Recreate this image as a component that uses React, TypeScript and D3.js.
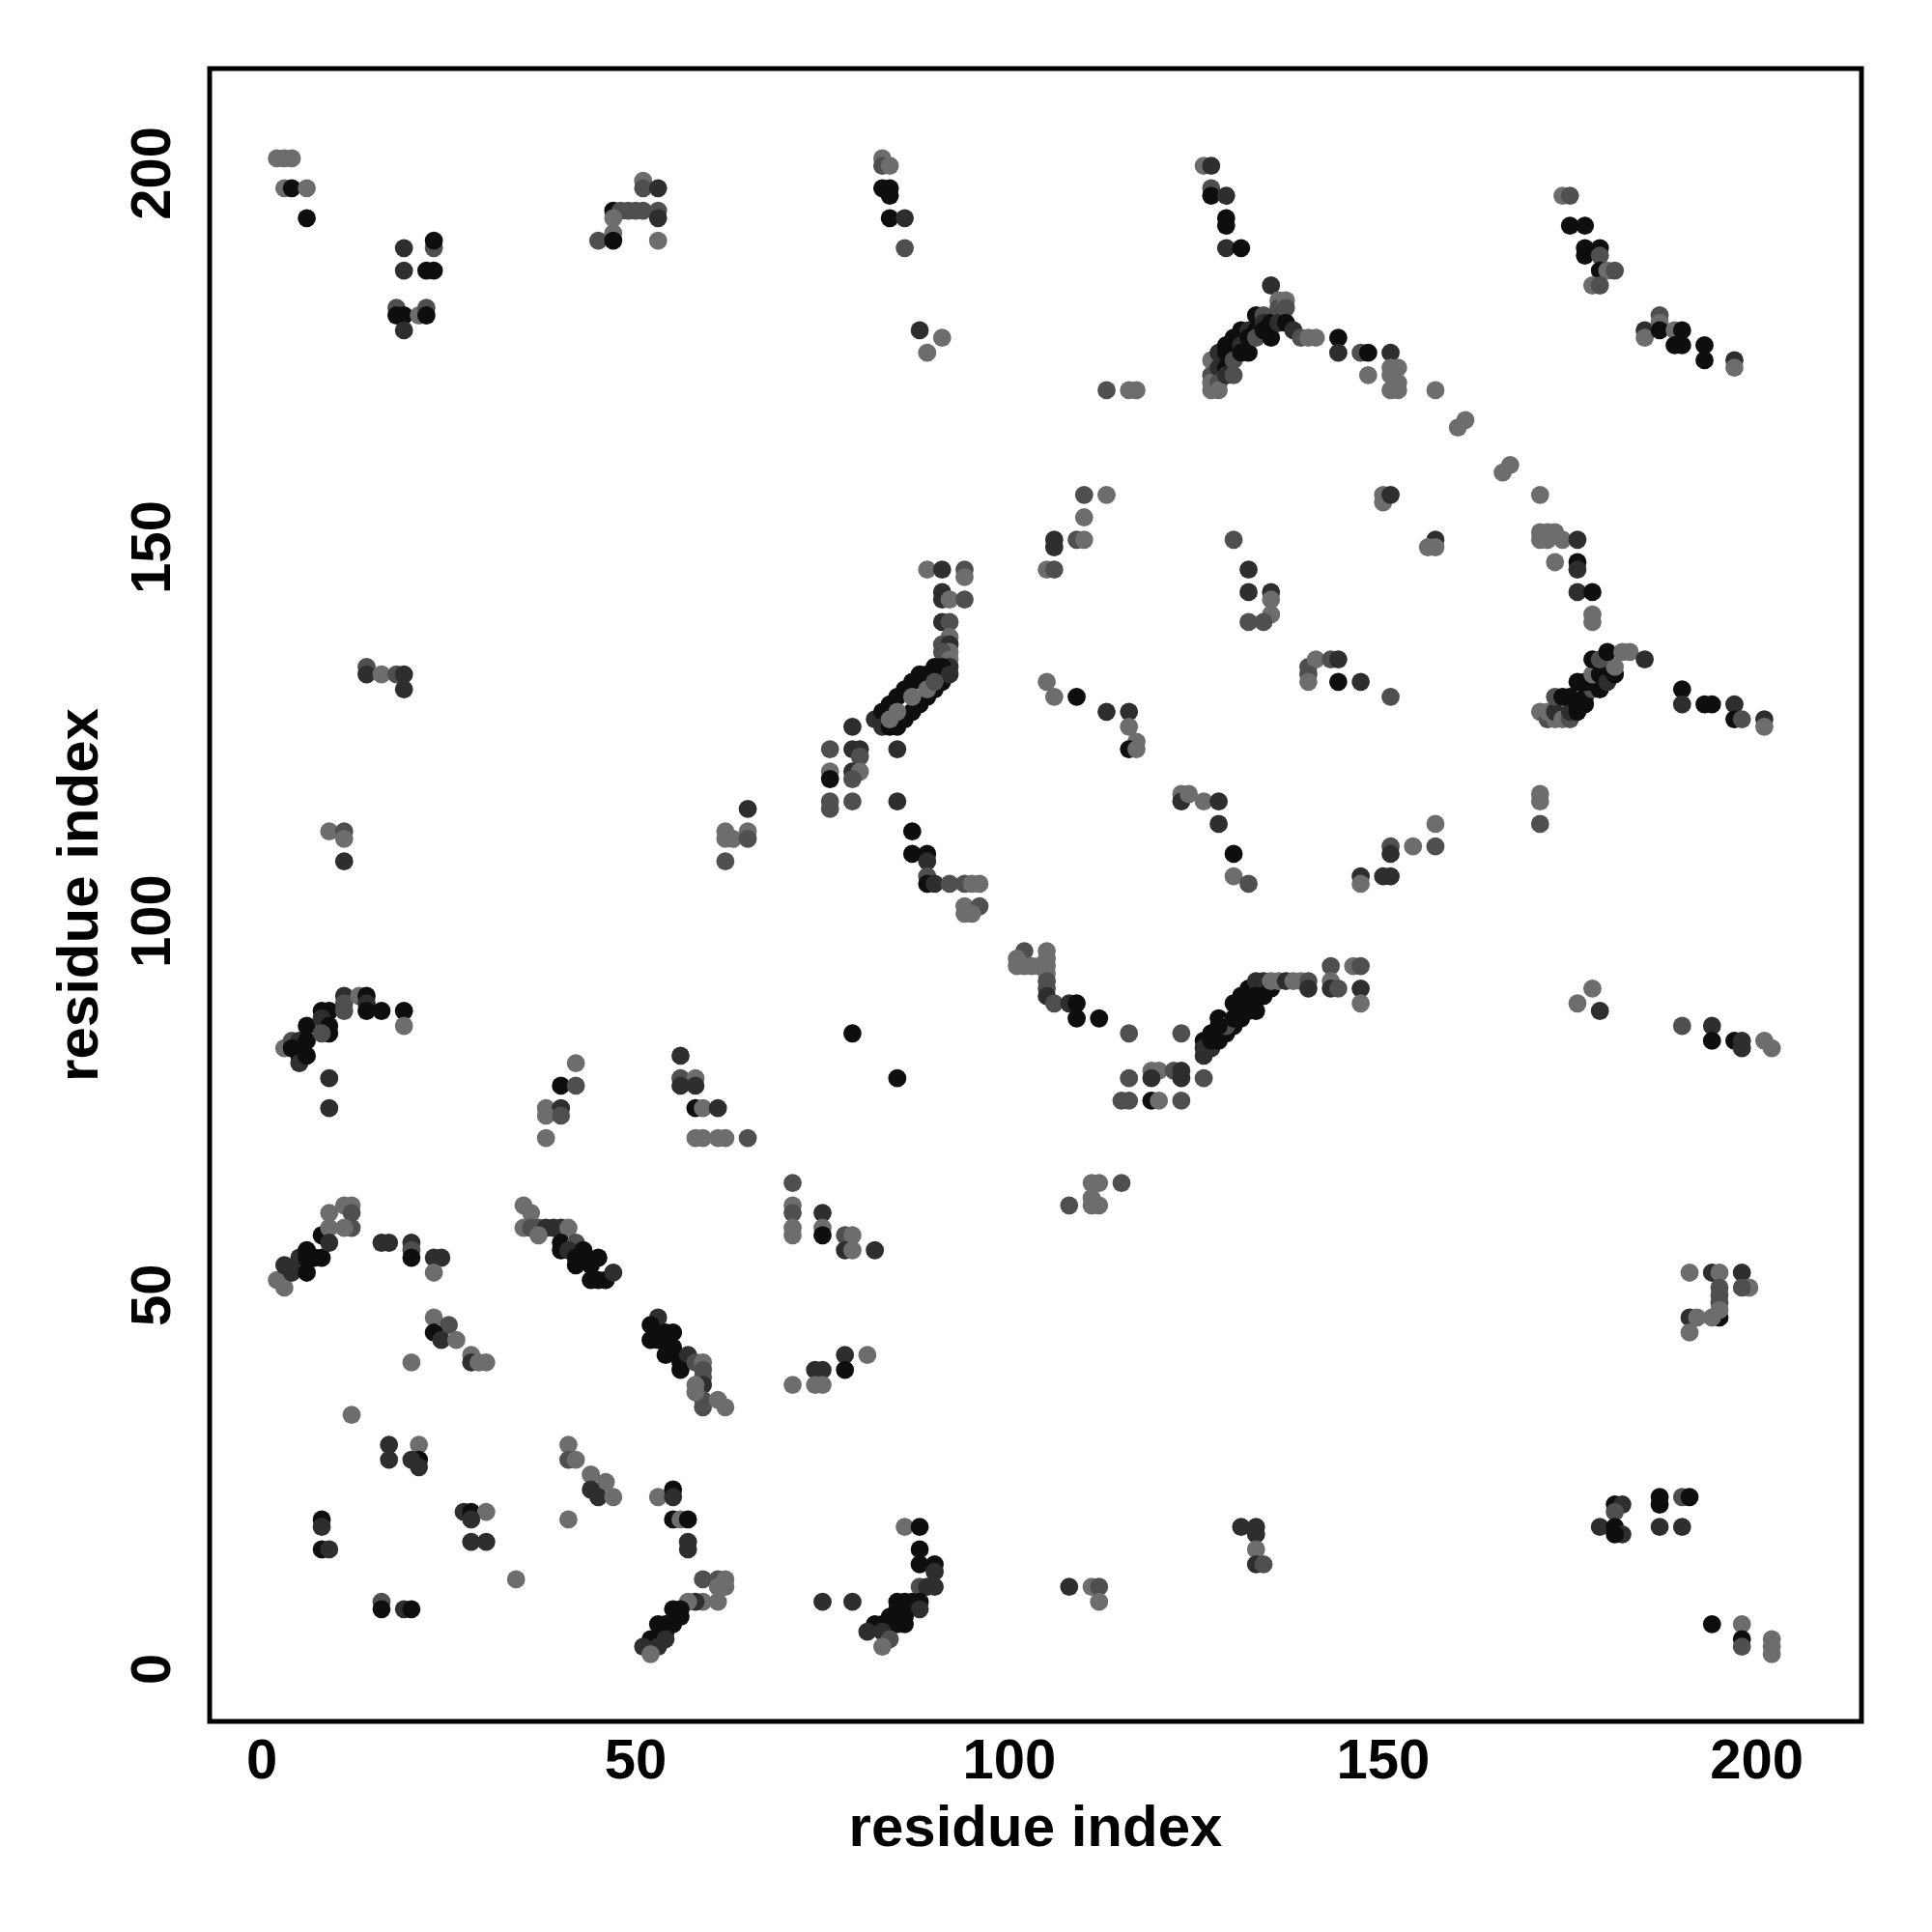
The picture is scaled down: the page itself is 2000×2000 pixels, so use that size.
import React from 'react';
import * as d3 from 'd3';

const xTicks = [0, 50, 100, 150, 200];
const yTicks = [0, 50, 100, 150, 200];
const xTitle = 'residue index';
const yTitle = 'residue index';
const domainMin = -7;
const domainMax = 214;
const toneColors = ['#0e0e0e', '#2e2e2e', '#4f4f4f', '#6d6d6d'];

// [residue i, residue j, tone(0 black .. 3 light grey)]
const contactsTop: [number, number, number][] = [
  [2,202,3],[3,202,3],[4,202,3],[3,198,3],[4,198,0],[6,198,3],[6,194,0],
  [19,190,1],[23,190,2],[23,191,0],[19,187,1],[22,187,0],[23,187,0],[18,182,2],[18,181,0],[19,181,0],[21,181,3],[22,182,2],[22,181,0],[19,179,1],
  [51,199,3],[51,198,2],[53,198,1],[47,195,0],[48,195,2],[49,195,2],[50,195,2],[51,195,2],[53,195,2],[47,194,3],[53,194,1],[47,192,3],[45,191,2],[47,191,0],[53,191,3],
  [83,202,3],[83,201,2],[84,201,3],[83,198,0],[84,198,0],[84,197,0],[84,194,0],[86,194,1],[86,190,2],
  [88,179,1],[91,178,3],[89,176,3],
  [126,201,3],[127,201,1],[127,198,2],[127,197,0],[129,197,1],[129,194,0],[129,193,0],[129,190,1],[131,190,0],
  [174,197,3],[175,197,2],[175,193,0],[177,193,0],[177,190,0],[179,190,0],[177,189,0],[179,189,2],[179,187,0],[180,187,3],[181,187,2],[178,185,3],[179,185,2],
  [127,175,3],[127,173,2],[127,172,3],[127,171,3],[128,176,1],[128,174,1],[128,172,2],[128,171,3],
  [129,177,0],[129,176,0],[129,174,0],[129,173,1],[130,178,0],[130,176,0],[130,175,2],[130,173,2],
  [131,179,0],[131,177,1],[131,176,0],[132,179,1],[132,178,0],[132,176,0],[133,181,0],[133,179,0],[133,178,2],
  [134,181,2],[134,180,1],[134,179,0],[135,180,0],[135,178,0],[135,185,1],[136,183,3],[136,182,2],[136,180,1],
  [137,183,3],[137,182,2],[137,180,0],[138,179,1],[139,178,2],
  [140,178,3],[141,178,3],[144,178,0],[144,176,1],[147,176,2],[148,176,0],[151,176,1],[151,174,3],[152,174,3],[151,173,3],[152,172,3],[151,171,3],[152,171,3],[148,173,3],[157,171,3],
  [187,181,2],[185,179,1],[185,178,3],[187,180,3],[187,179,0],[189,179,3],[190,179,0],[189,177,0],[190,177,0],[193,177,0],[193,175,0],[197,175,1],[197,174,3],
  [113,171,2],[116,171,3],[117,171,3],
  [160,166,3],[161,167,3],[166,160,3],[167,161,3],[171,157,3],
  [150,157,3],[150,156,3],[151,157,1],
];

const contactsUpperMiddle: [number, number, number][] = [
  [110,157,2],[113,157,3],[110,154,3],[106,151,1],[106,150,1],[109,151,2],[110,151,3],[105,147,3],[106,147,2],
  [130,151,2],[132,147,1],[132,144,1],[135,144,1],[135,143,3],[135,141,3],[132,140,2],[134,140,2],
  [157,151,1],[156,150,3],[157,150,3],
  [171,152,3],[172,152,3],[173,152,3],[171,151,3],[172,151,3],[174,151,3],[176,151,1],[173,148,3],[176,148,0],[176,147,1],[176,144,1],[178,144,0],[178,141,3],[178,140,3],
  [89,147,3],[91,147,1],[94,147,2],[94,146,3],[91,144,1],[91,143,1],[92,143,3],[94,143,2],[91,140,1],[92,140,2],[92,138,3],[91,137,2],[92,137,1],[92,136,3],[91,136,2],[92,135,3],[92,134,1],
  [82,127,1],[83,128,0],[84,129,0],[85,130,0],[86,131,0],[87,132,0],[88,133,0],[89,133,0],[90,134,0],[91,134,0],
  [83,126,1],[84,126,0],[85,126,0],[86,127,0],[87,128,0],[88,129,0],[89,130,0],[90,131,0],[91,132,0],[92,133,1],
  [85,128,3],[87,130,3],[89,131,3],[90,132,2],[84,127,3],
  [14,134,2],[14,133,1],[16,133,3],[18,133,2],[19,133,1],[19,131,1],
  [105,132,3],[106,130,3],[109,130,0],[113,128,1],[116,128,1],[116,126,3],[117,124,3],[116,123,0],[117,123,3],
  [140,134,2],[141,135,3],[143,135,2],[144,135,1],[140,133,2],[140,132,3],[144,132,0],[147,132,1],[151,130,2],
  [171,128,3],[172,127,2],[173,127,3],[172,128,3],[173,128,1],[174,127,3],[175,127,2],[173,130,2],[175,128,1],[176,128,0],
  [174,130,0],[175,130,0],[176,129,0],[177,129,0],[177,130,0],[178,131,2],[179,131,0],[176,132,0],[177,132,0],[178,132,0],
  [178,133,3],[179,133,0],[180,132,1],[181,133,0],[180,134,0],[181,134,3],[178,135,0],[179,135,2],[180,136,0],[182,136,3],[183,136,3],[185,135,1],
  [190,131,0],[190,129,1],[193,129,0],[194,129,0],[197,129,1],[197,127,0],[198,127,2],[201,127,1],[201,126,3],
  [79,126,1],[76,123,2],[79,123,1],[80,123,1],[85,123,1],[80,122,2],[76,120,3],[79,120,1],[80,120,3],[76,119,0],[79,119,2],[76,116,2],[79,116,2],[85,116,1],[76,115,2],
  [9,112,3],[11,112,2],[11,111,3],[11,108,1],
  [62,108,2],[62,112,3],[62,111,3],[63,111,3],[65,115,1],[65,112,3],[65,111,2],
  [123,117,3],[123,116,1],[124,117,3],[126,116,3],[128,116,1],[128,113,1],[130,109,0],[130,106,3],[132,105,2],
  [157,113,3],[157,110,2],[154,110,3],[151,110,2],[151,109,1],[147,106,1],[147,105,3],[150,106,1],[151,106,1],
  [171,117,3],[171,116,3],[171,113,2],
  [87,112,0],[87,109,0],[89,109,0],[89,108,1],[89,106,2],[89,105,0],[90,105,1],[92,105,2],[94,105,2],[95,105,3],[96,105,3],[94,102,3],[96,102,2],[94,101,3],[95,101,3],
];

const contactsLowerMiddle: [number, number, number][] = [
  [102,96,2],[101,95,3],[101,94,3],[102,94,3],[103,94,3],[105,96,3],[105,95,3],[104,94,3],[105,94,3],[105,93,3],[105,92,2],[105,91,2],[105,90,1],[106,89,2],[108,89,1],[109,89,0],[109,87,0],[112,87,0],
  [3,83,3],[4,84,2],[5,84,1],[4,83,0],[5,82,0],[5,81,1],[6,86,0],[6,84,0],[6,82,0],[8,88,0],[9,88,0],[8,87,1],[9,86,0],[9,85,0],[8,85,2],
  [11,90,1],[11,89,2],[11,88,2],[13,90,3],[14,90,0],[14,89,1],[14,88,0],[16,88,0],[19,88,0],[19,86,3],[9,79,1],[9,75,1],
  [79,85,0],[85,79,0],
  [116,85,2],[123,85,2],[116,79,2],[119,80,3],[120,80,3],[119,79,1],[122,80,2],[123,80,1],[123,79,1],[126,79,2],[115,76,2],[116,76,2],[119,76,0],[120,76,3],[123,76,2],
  [126,84,0],[127,85,0],[128,87,0],[130,89,0],[132,91,0],[133,92,1],[134,92,1],
  [126,82,1],[127,83,1],[128,84,0],[129,85,0],[130,86,0],[131,87,0],[132,88,0],[133,88,0],[134,90,0],[135,91,0],
  [126,83,1],[129,86,2],[131,89,0],[131,90,0],[128,86,0],[127,84,0],[130,87,0],[133,90,0],
  [135,92,3],[136,92,3],[137,92,1],[138,92,3],[139,92,3],[140,92,2],[140,91,1],[143,94,2],[146,94,3],[147,94,2],[143,92,3],[143,91,1],[144,91,2],[147,91,1],[147,89,3],
  [178,91,3],[176,89,3],[179,88,1],
  [190,86,2],[194,86,1],[194,84,0],[197,84,0],[198,84,1],[198,83,1],[201,84,3],[202,83,3],
  [42,81,3],[40,78,0],[42,78,2],[38,75,3],[40,75,1],[38,74,3],[40,74,2],[38,71,3],
  [56,82,1],[56,79,2],[58,79,3],[56,78,1],[58,78,1],[58,75,0],[59,75,3],[61,75,1],[58,71,3],[59,71,3],[61,71,3],[62,71,3],[65,71,2],
  [71,65,2],[71,62,3],[71,61,2],[71,59,3],[71,58,3],[75,61,1],[75,59,3],[75,58,0],[78,58,2],[79,58,3],[78,56,1],[79,56,3],[82,56,1],
  [108,62,2],[111,65,3],[112,65,3],[115,65,2],[111,62,3],[112,62,3],[111,63,3],
];

const contactsBottom: [number, number, number][] = [
  [2,52,3],[3,51,3],[3,54,1],[4,53,1],[5,54,1],[5,55,1],[6,56,0],[6,55,0],[6,53,0],[7,55,0],[8,58,0],[8,55,0],[9,61,3],[9,59,3],[9,57,1],
  [11,62,3],[12,62,3],[12,61,2],[12,59,2],[11,59,3],[16,57,1],[17,57,1],[20,57,1],[20,56,2],[20,55,0],[23,55,1],[24,55,1],[23,53,3],
  [35,62,3],[36,61,3],[35,59,3],[36,59,2],[37,59,2],[38,59,1],[39,59,1],[40,59,1],[41,59,3],[37,58,3],[40,57,0],[42,57,2],[40,56,0],[41,56,1],
  [42,55,0],[43,55,0],[43,56,0],[45,55,0],[44,54,0],[42,54,0],[44,52,0],[45,52,0],[46,52,0],[47,53,1],
  [191,53,3],[194,53,1],[195,53,3],[198,53,1],[199,51,3],[198,51,2],[195,51,2],[195,50,2],[195,49,2],[191,47,1],[192,47,3],[191,45,3],[195,47,0],[194,47,3],[195,48,3],
  [23,47,3],[25,46,2],[23,45,0],[24,44,1],[26,44,3],[28,42,3],[28,41,1],[29,41,3],[30,41,3],[20,41,3],
  [53,47,1],[52,46,0],[52,44,0],[53,44,0],[54,45,0],[55,45,0],[55,43,0],[54,42,0],[56,41,0],[57,42,1],[56,40,0],[58,41,2],[59,41,3],[59,40,2],[59,39,2],[59,38,1],[59,36,2],[59,35,2],[58,38,3],[58,37,3],[61,36,3],[62,35,3],
  [71,38,3],[74,40,1],[75,40,1],[74,38,3],[75,38,3],[78,42,1],[78,40,0],[81,42,3],
  [12,34,3],
  [17,30,1],[17,28,1],[21,30,3],[21,28,0],[20,28,1],[21,27,1],
  [41,30,3],[41,28,2],[42,28,3],[44,26,3],[46,25,3],[44,24,1],[45,23,1],[47,23,3],[41,20,3],
  [8,20,0],[8,19,1],[8,16,0],[9,16,1],[27,21,1],[28,21,0],[30,21,3],[28,20,1],[28,17,1],[30,17,1],
  [53,23,3],[55,24,0],[55,23,1],[55,20,0],[56,20,3],[57,20,0],[57,17,1],[57,16,1],
  [16,9,2],[16,8,0],[19,8,1],[20,8,0],
  [34,12,3],
  [59,12,2],[61,12,2],[62,12,3],[61,11,3],[62,11,3],[59,9,3],[61,9,3],[58,9,1],[57,9,3],[55,8,0],[56,8,0],[56,7,0],[55,6,0],[54,6,0],[53,6,0],[54,5,0],[52,4,0],[54,4,1],[51,3,1],[53,3,1],[52,2,3],
  [75,9,1],[79,9,1],
  [86,19,3],[88,19,0],[88,16,0],[88,14,0],[90,14,0],[90,13,1],[88,11,2],[89,11,1],[90,11,1],[88,9,0],[87,9,0],[86,9,0],[85,9,0],[85,8,0],[88,8,1],
  [84,7,0],[86,7,0],[86,6,0],[85,6,0],[83,6,0],[82,6,0],[81,5,1],[83,5,1],[84,4,2],[83,3,3],
  [108,11,1],[111,11,3],[112,11,2],[112,9,3],
  [131,19,1],[133,19,1],[133,18,1],[133,16,3],[133,14,1],[134,14,2],
  [181,22,0],[182,22,1],[181,21,2],[179,19,1],[181,19,0],[182,18,1],[181,18,0],[187,23,0],[187,22,0],[190,23,2],[191,23,0],[187,19,1],[190,19,1],
  [194,6,0],[198,6,3],[198,4,0],[198,3,2],[202,4,3],[202,3,3],[202,2,3],
];

export default function App() {
  const W = 2000;
  const H = 2000;
  const left = 217, right = 1927, top = 71, bottom = 1782;
  const x = d3.scaleLinear().domain([domainMin, domainMax]).range([left, right]);
  const y = d3.scaleLinear().domain([domainMin, domainMax]).range([bottom, top]);
  const points = [...contactsTop, ...contactsUpperMiddle, ...contactsLowerMiddle, ...contactsBottom];
  const font = "'Liberation Sans', Arial, Helvetica, sans-serif";
  const fs = 58;
  const titleFs = 60;
  return (
    <svg width={W} height={H} viewBox={`0 0 ${W} ${H}`} style={{ position: 'absolute', left: 0, top: 0, background: '#fff' }}>
      <rect x={0} y={0} width={W} height={H} fill="#fff" />
      <g>
        {points.map((p, i) => (
          <circle key={i} cx={x(p[0])} cy={y(p[1])} r={9.4} fill={toneColors[p[2]]} />
        ))}
      </g>
      <rect x={left} y={top} width={right - left} height={bottom - top} fill="none" stroke="#000" strokeWidth={5} />
      <g fontFamily={font} fontWeight="bold" fontSize={fs} fill="#000">
        {xTicks.map((t) => (
          <text key={'x' + t} x={x(t)} y={1841} textAnchor="middle">{t}</text>
        ))}
        {yTicks.map((t) => (
          <text key={'y' + t} transform={`translate(176,${y(t)}) rotate(-90)`} textAnchor="middle">{t}</text>
        ))}
        <text x={(left + right) / 2} y={1911} textAnchor="middle" fontSize={titleFs}>{xTitle}</text>
        <text transform={`translate(101,${(top + bottom) / 2}) rotate(-90)`} textAnchor="middle" fontSize={titleFs}>{yTitle}</text>
      </g>
    </svg>
  );
}
